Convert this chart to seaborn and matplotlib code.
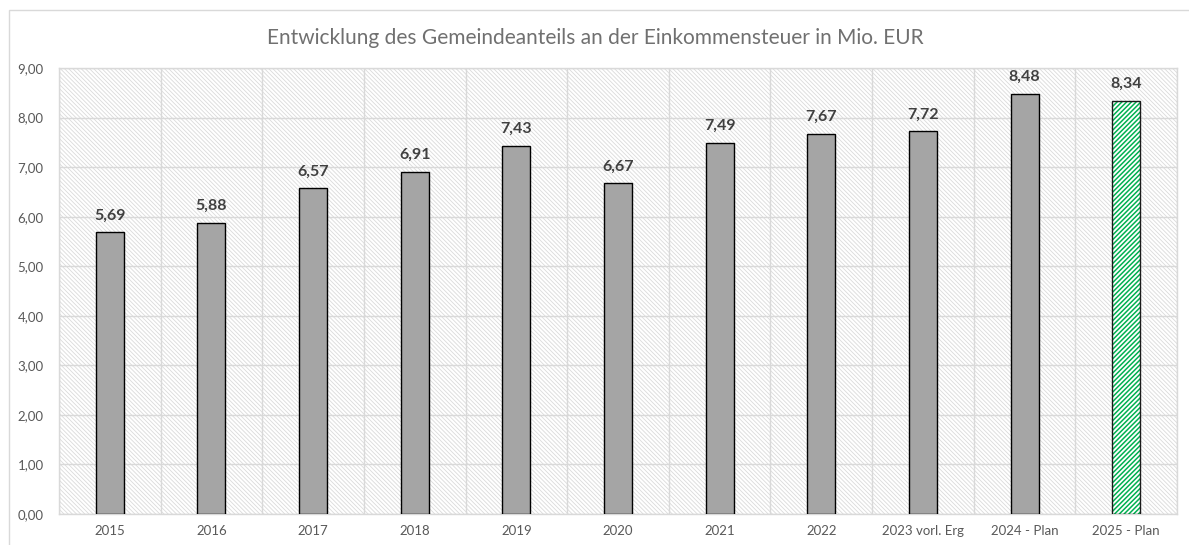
import matplotlib
matplotlib.use("Agg")
import matplotlib.pyplot as plt
from matplotlib.patches import Rectangle
import seaborn as sns

# chart data
jahre = ["2015", "2016", "2017", "2018", "2019", "2020", "2021", "2022",
         "2023 vorl. Erg", "2024 - Plan", "2025 - Plan"]
werte = [5.69, 5.88, 6.57, 6.91, 7.43, 6.67, 7.49, 7.67, 7.72, 8.48, 8.34]
y_ticks = [0, 1, 2, 3, 4, 5, 6, 7, 8, 9]

sns.set_theme(style="white")
plt.rcParams["font.family"] = ["Lato", "DejaVu Sans"]
plt.rcParams["hatch.linewidth"] = 0.6

W, H = 1189, 545
fig = plt.figure(figsize=(W / 100, H / 100), dpi=100)
ax = fig.add_axes([59 / W, 1 - 514 / H, (1177 - 59) / W, (514 - 68) / H])

# outer frame of the chart
fig.patches.append(Rectangle((9 / W, -0.1), 1.2, 1 - 10 / H + 0.1, transform=fig.transFigure,
                             fill=False, edgecolor="#D9D9D9", linewidth=1.0, zorder=0))

# hatched plot area background
ax.set_facecolor("white")
bg = Rectangle((0, 0), 1, 1, transform=ax.transAxes, facecolor="white",
               edgecolor="#DADADA", hatch="\\" * 8, linewidth=0, zorder=0)
ax.add_patch(bg)

sns.barplot(x=jahre, y=werte, color="#A5A5A5", edgecolor="black", linewidth=1.0,
            width=0.275, saturation=1, ax=ax, zorder=3)

# last bar: green hatch, black outline
last = ax.patches[-1]
last.set_facecolor("white")
last.set_edgecolor("#00B050")
last.set_hatch("/" * 7)
last.set_linewidth(0)
if hasattr(last, "set_hatch_linewidth"):
    bg.set_hatch_linewidth(0.6)
    last.set_hatch_linewidth(1.1)
ax.bar(len(jahre) - 1, werte[-1], width=0.275, fill=False, edgecolor="#1a1a1a",
       linewidth=1.0, zorder=4)

for i, v in enumerate(werte):
    ax.annotate(f"{v:.2f}".replace(".", ","), (i, v), xytext=(0, 7), textcoords="offset points",
                ha="center", va="bottom", fontsize=11.5, fontweight="bold", color="#404040")

ax.set_ylim(0, 9)
ax.set_xlim(-0.5, len(jahre) - 0.5)
ax.set_yticks(y_ticks)
ax.set_yticklabels([f"{t:.2f}".replace(".", ",") for t in y_ticks])
ax.set_xticks(range(len(jahre)))
ax.set_xticklabels(jahre)
ax.set_xticks([i - 0.5 for i in range(len(jahre) + 1)], minor=True)
ax.tick_params(axis="both", which="both", length=0, labelsize=9.5, colors="#595959")
ax.tick_params(axis="x", pad=8)
ax.tick_params(axis="y", pad=11)

ax.grid(True, axis="y", which="major", color="#D9D9D9", linewidth=1.0, zorder=1)
ax.grid(True, axis="x", which="minor", color="#D9D9D9", linewidth=1.0, zorder=1)
ax.grid(False, axis="x", which="major")
ax.set_axisbelow(True)
for s in ax.spines.values():
    s.set_color("#D9D9D9")
    s.set_linewidth(1.0)

fig.text(595 / W, 1 - 38 / H, "Entwicklung des Gemeindeanteils an der Einkommensteuer in Mio. EUR",
         ha="center", va="center", fontsize=15, color="#707070")

fig.savefig("out.png", dpi=100)
